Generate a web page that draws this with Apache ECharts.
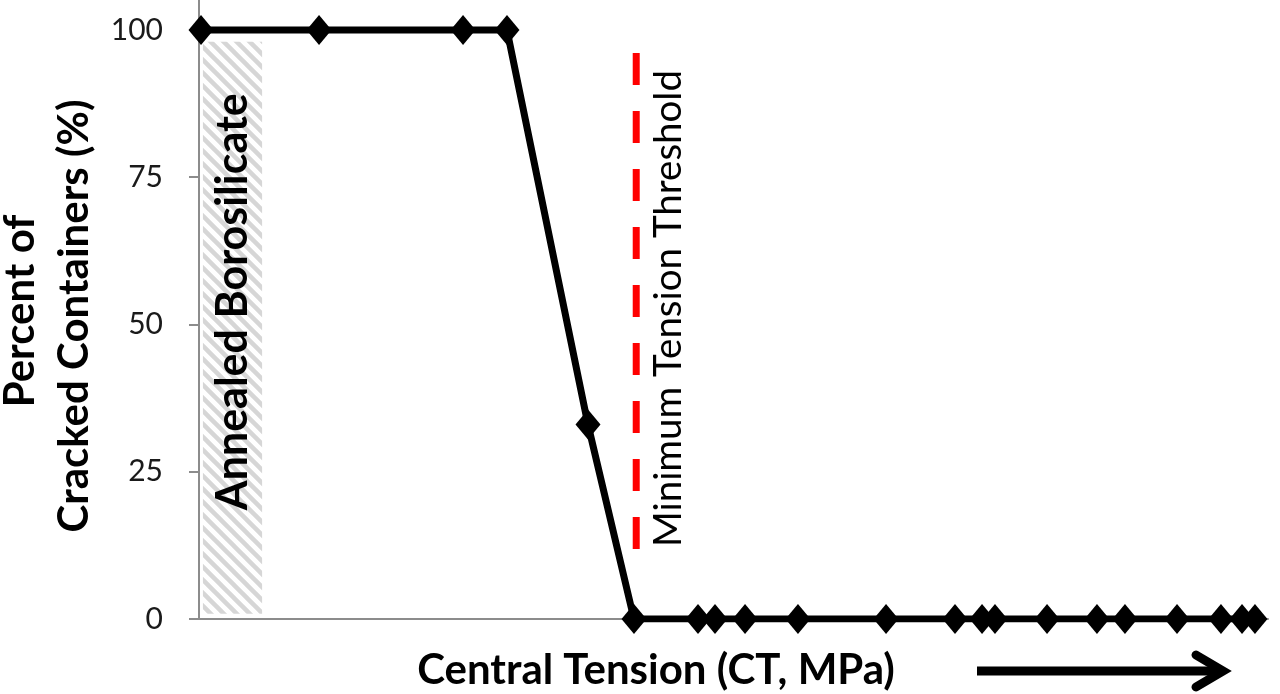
<!DOCTYPE html>
<html>
<head>
<meta charset="utf-8">
<script src="https://cdn.jsdelivr.net/npm/echarts@6/dist/echarts.min.js"></script>
<style>
html,body{margin:0;padding:0;background:#fff;}
#chart{width:1280px;height:694px;}
</style>
</head>
<body>
<div id="chart"></div>
<script>
// Central tension (arbitrary axis units, axis has no tick labels)
var ct = [0.19, 11.23, 24.70, 28.81, 36.39, 40.69, 46.68, 48.27, 51.08, 56.03, 64.27, 70.72, 73.25, 74.46, 79.33, 84.00, 86.62, 91.49, 95.60, 97.57, 98.78];
// Percent of cracked containers
var cracked = [100, 100, 100, 100, 33, 0, 0, 0, 0, 0, 0, 0, 0, 0, 0, 0, 0, 0, 0, 0, 0];
var yTicks = [0, 25, 50, 75, 100];
// Annealed borosilicate band (x range, y range)
var annealedX = [0.37, 5.9];
var annealedY = [0.9, 98];
// Minimum tension threshold
var thresholdX = 40.9;
var thresholdY = [96.1, 11.7];

var FONT = 'Lato';

var hatch = document.createElement('canvas');
hatch.width = 13; hatch.height = 13;
(function(){
  var c = hatch.getContext('2d');
  c.strokeStyle = '#d6d6d6';
  c.lineWidth = 4.5;
  for (var k = -13; k <= 13; k += 13) {
    c.beginPath();
    c.moveTo(k - 2, -2);
    c.lineTo(k + 15, 15);
    c.stroke();
  }
})();

var chart = echarts.init(document.getElementById('chart'), null, {renderer: 'canvas'});
var seriesData = ct.map(function(x, i){ return [x, cracked[i]]; });

var option = {
  animation: false,
  backgroundColor: '#ffffff',
  grid: {left: 199, right: 12, top: 0, bottom: 75, containLabel: false, outerBoundsMode: 'none'},
  xAxis: {
    type: 'value', min: 0, max: 100,
    axisLine: {show: true, onZero: false, lineStyle: {color: '#8c8c8c', width: 2}},
    axisTick: {show: false},
    axisLabel: {show: false},
    splitLine: {show: false}
  },
  yAxis: {
    type: 'value', min: 0, max: 105.09,
    axisLine: {show: true, lineStyle: {color: '#8c8c8c', width: 2}},
    axisTick: {show: true, length: 10, customValues: yTicks, lineStyle: {color: '#8c8c8c', width: 2}},
    axisLabel: {show: true, customValues: yTicks, margin: 36, fontFamily: FONT, fontSize: 30, color: '#1a1a1a'},
    splitLine: {show: false}
  },
  series: [
    {
      type: 'line',
      silent: true,
      data: [],
      markArea: {
        silent: true,
        itemStyle: {color: {image: hatch, repeat: 'repeat'}},
        data: [[{coord: [annealedX[0], annealedY[0]]}, {coord: [annealedX[1], annealedY[1]]}]]
      }
    },
    {
      type: 'line',
      silent: true,
      data: [[thresholdX, thresholdY[0]], [thresholdX, thresholdY[1]]],
      symbol: 'none',
      lineStyle: {color: '#ff0000', width: 7, type: [32, 26], cap: 'butt'},
      z: 3
    },
    {
      type: 'line',
      data: seriesData,
      symbol: 'diamond',
      symbolSize: [25, 30],
      itemStyle: {color: '#000'},
      lineStyle: {color: '#000', width: 7, join: 'miter'},
      z: 5
    }
  ]
};
chart.setOption(option);

var pA = chart.convertToPixel({gridIndex: 0}, [(annealedX[0] + annealedX[1]) / 2, (annealedY[0] + annealedY[1]) / 2]);
var pT = chart.convertToPixel({gridIndex: 0}, [thresholdX, (thresholdY[0] + thresholdY[1]) / 2]);

function vtext(x, y, txt, size, weight) {
  return {type: 'text', x: x, y: y, rotation: Math.PI / 2, z: 10,
    style: {text: txt, fontFamily: FONT, fontWeight: weight, fontSize: size, fill: '#000', align: 'center', verticalAlign: 'middle'}};
}

chart.setOption({
  graphic: [
    vtext(pA[0] + 1, pA[1] - 26, 'Annealed Borosilicate', 43, 'bold'),
    vtext(pT[0] + 32, pT[1] + 7, 'Minimum Tension Threshold', 38.5, 'normal'),
    vtext(20, 311, 'Percent of', 42, 'bold'),
    vtext(74, 316, 'Cracked Containers (%)', 42, 'bold'),
    {type: 'text', x: 656, y: 670, z: 10,
     style: {text: 'Central Tension (CT, MPa)', fontFamily: FONT, fontWeight: 'bold', fontSize: 42, fill: '#000', align: 'center', verticalAlign: 'middle'}},
    {type: 'polyline', shape: {points: [[977, 671], [1219, 671]]}, style: {stroke: '#000', lineWidth: 9, fill: null}, z: 10},
    {type: 'polyline', shape: {points: [[1196, 655], [1223, 671], [1196, 687]]}, style: {stroke: '#000', lineWidth: 9, fill: null, lineCap: 'round', lineJoin: 'miter'}, z: 10}
  ]
});
</script>
</body>
</html>
